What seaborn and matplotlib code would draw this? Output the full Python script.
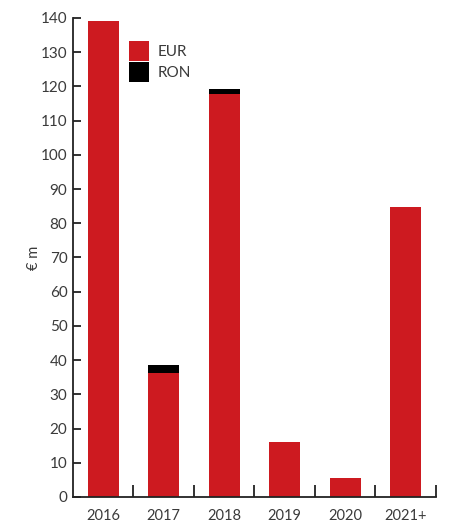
import matplotlib
matplotlib.use("Agg")
import matplotlib.pyplot as plt
from matplotlib.ticker import FixedLocator
import seaborn as sns
import pandas as pd

# Maturity profile, split by currency (EUR m)
years = ["2016", "2017", "2018", "2019", "2020", "2021+"]
eur = [139.2, 36.2, 117.7, 16.1, 5.6, 84.8]
ron = [0.0, 2.4, 1.6, 0.0, 0.0, 0.0]

RED = "#CD1A20"
BLACK = "#000000"
TEXT = "#3a3a3a"

sns.set_theme(style="white")
plt.rcParams["font.family"] = ["Lato", "DejaVu Sans"]

df = pd.DataFrame({"year": years, "EUR": eur, "RON": ron})
df["total"] = df["EUR"] + df["RON"]

fig = plt.figure(figsize=(4.55, 5.29), dpi=100)
ax = fig.add_axes([0.1604, 0.0605, 0.7978, 0.9055])

# stacked bars: total (black RON on top) drawn first, EUR over it
sns.barplot(data=df, x="year", y="total", color=BLACK, width=0.51,
            saturation=1, ax=ax, label="RON")
sns.barplot(data=df, x="year", y="EUR", color=RED, width=0.51,
            saturation=1, ax=ax, label="EUR")
for p in ax.patches:
    p.set_linewidth(0)

ax.set_xlim(-0.5, 5.5)
ax.set_ylim(0, 140)
ax.set_yticks(range(0, 141, 10))
ax.set_xlabel("")
ax.set_ylabel("€ m", color=TEXT, fontsize=10.5, labelpad=0)

for s in ["top", "right"]:
    ax.spines[s].set_visible(False)
for s in ["left", "bottom"]:
    ax.spines[s].set_color("#222222")
    ax.spines[s].set_linewidth(1.3)

ax.tick_params(axis="y", direction="in", length=6, width=1.3, color="#222222",
               labelsize=11, labelcolor=TEXT, pad=4, left=True)
ax.tick_params(axis="x", which="major", length=0, labelsize=10.5,
               labelcolor=TEXT, pad=9, bottom=True)
ax.xaxis.set_minor_locator(FixedLocator([0.5, 1.5, 2.5, 3.5, 4.5, 5.5]))
ax.tick_params(axis="x", which="minor", direction="in", length=8.5, width=1.3,
               color="#222222", bottom=True)

handles, labels = ax.get_legend_handles_labels()
order = [labels.index("EUR"), labels.index("RON")]
leg = ax.legend([handles[i] for i in order], [labels[i] for i in order],
                loc="upper left", bbox_to_anchor=(0.154, 0.952), frameon=False,
                handlelength=1.3, handleheight=1.6, handletextpad=0.6,
                labelspacing=0.1, fontsize=11, borderaxespad=0, borderpad=0)
for t in leg.get_texts():
    t.set_color(TEXT)

fig.savefig("out.png", dpi=100)
